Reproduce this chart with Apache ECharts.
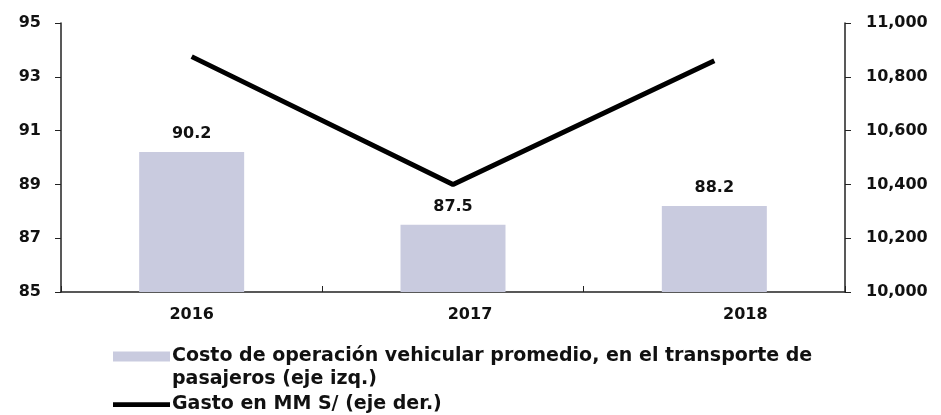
<!DOCTYPE html>
<html>
<head>
<meta charset="utf-8">
<script src="https://cdn.jsdelivr.net/npm/echarts@6/dist/echarts.min.js"></script>
<style>html,body{margin:0;padding:0;background:#fff}#c{width:941px;height:415px}</style>
</head>
<body>
<div id="c"></div>
<script>
const categories = ['2016', '2017', '2018'];
const costoValues = [90.2, 87.5, 88.2];
const gastoValues = [10875, 10400, 10860];
const leftTicks = [85, 87, 89, 91, 93, 95];
const rightTicks = [10000, 10200, 10400, 10600, 10800, 11000];
const costoName = 'Costo de operación vehicular promedio, en el transporte de';
const costoName2 = 'pasajeros (eje izq.)';
const gastoName = 'Gasto en MM S/ (eje der.)';
const labelShift = [0, 34, 62];

const font = 'DejaVu Sans, sans-serif';
const fs = 16;
const lfs = 19;
const chart = echarts.init(document.getElementById('c'));
chart.setOption({
  animation: false,
  textStyle: { fontFamily: font },
  grid: { left: 61, right: 96, top: 23, bottom: 123 },
  legend: {
    orient: 'vertical',
    left: 113,
    top: 345,
    height: 100,
    padding: 0,
    itemWidth: 57,
    itemHeight: 10,
    itemGap: 25,
    textStyle: { fontFamily: font, fontSize: lfs, fontWeight: 'bold', color: '#111', lineHeight: 23, padding: [0, 0, 0, -3] },
    data: [
      { name: costoName, icon: 'rect' },
      { name: gastoName, icon: 'path://M0,2.5L60,2.5L60,7.5L0,7.5Z' }
    ]
  },
  graphic: [
    {
      type: 'text', left: 172, top: 370, silent: true,
      style: { text: costoName2, fontFamily: font, fontSize: lfs, fontWeight: 'bold', fill: '#111' }
    }
  ],
  xAxis: {
    type: 'category',
    data: categories,
    axisLine: { lineStyle: { color: '#222', width: 1.5 } },
    axisTick: { show: true, inside: true, length: 6, lineStyle: { color: '#222' } },
    axisLabel: {
      margin: 15,
      formatter: function (v, i) { return '{s' + i + '|' + v + '}'; },
      rich: {
        s0: { fontSize: fs, fontWeight: 'bold', color: '#111', fontFamily: font, padding: [0, 0, 0, labelShift[0]] },
        s1: { fontSize: fs, fontWeight: 'bold', color: '#111', fontFamily: font, padding: [0, 0, 0, labelShift[1]] },
        s2: { fontSize: fs, fontWeight: 'bold', color: '#111', fontFamily: font, padding: [0, 0, 0, labelShift[2]] }
      }
    }
  },
  yAxis: [
    {
      type: 'value', min: leftTicks[0], max: leftTicks[leftTicks.length - 1], interval: 2,
      splitLine: { show: false },
      axisLine: { show: true, lineStyle: { color: '#222', width: 1.5 } },
      axisTick: { show: true, length: 6, lineStyle: { color: '#222' } },
      axisLabel: { margin: 20, fontSize: fs, fontWeight: 'bold', color: '#111', fontFamily: font }
    },
    {
      type: 'value', min: rightTicks[0], max: rightTicks[rightTicks.length - 1], interval: 200,
      splitLine: { show: false },
      axisLine: { show: true, lineStyle: { color: '#222', width: 1.5 } },
      axisTick: { show: true, length: 6, lineStyle: { color: '#222' } },
      axisLabel: {
        margin: 21, fontSize: fs, fontWeight: 'bold', color: '#111', fontFamily: font,
        formatter: function (v) { return v.toLocaleString('en-US'); }
      }
    }
  ],
  series: [
    {
      name: costoName,
      type: 'bar',
      yAxisIndex: 0,
      data: costoValues,
      barWidth: 105,
      itemStyle: { color: '#c9cbdf' },
      label: {
        show: true, position: 'top', distance: 10,
        fontSize: fs, fontWeight: 'bold', color: '#111', fontFamily: font,
        formatter: function (p) { return p.value.toFixed(1); }
      }
    },
    {
      name: gastoName,
      type: 'line',
      yAxisIndex: 1,
      data: gastoValues,
      symbol: 'none',
      lineStyle: { color: '#000', width: 5 },
      itemStyle: { color: '#000' },
      z: 5
    }
  ]
});
</script>
</body>
</html>
